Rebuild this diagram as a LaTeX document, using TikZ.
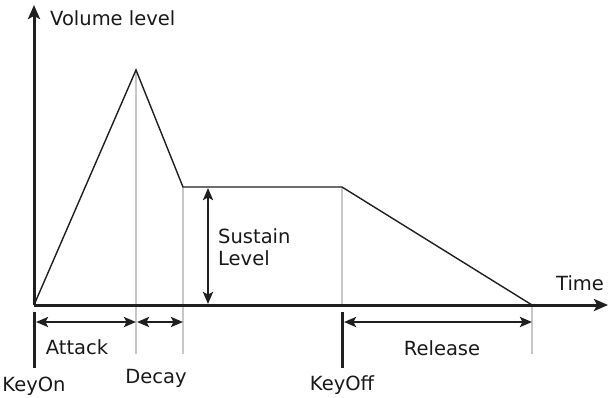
\documentclass[tikz,border=0pt]{standalone}
\usepackage{fontspec}
\setmainfont{DejaVu Sans}
\usetikzlibrary{arrows.meta}
\begin{document}
\begin{tikzpicture}[x=1pt,y=-1pt,
  axis/.style={line width=3pt,draw=black!88,-{Stealth[length=14pt,width=12pt,inset=3pt]}},
  env/.style={line width=1.4pt,draw=black!88},
  guide/.style={line width=1.6pt,draw=black!22},
  dim/.style={line width=2.4pt,draw=black!88,{Stealth[length=12pt,width=10pt,inset=2.5pt]}-{Stealth[length=12pt,width=10pt,inset=2.5pt]}},
  keymark/.style={line width=3pt,draw=black!88},
  lbl/.style={font=\fontsize{19.5}{22}\selectfont,text=black!90,inner sep=0pt}]
\useasboundingbox (0,0) rectangle (609,397);
% key points
\coordinate (O) at (34,305);
\coordinate (P) at (136,70);
\coordinate (D) at (183,187);
\coordinate (S) at (342,187);
\coordinate (R) at (532,305);
\coordinate (Ytip) at (34,5);
\coordinate (Xtip) at (608,305);
% guides
\coordinate (Pb) at (136,354);
\coordinate (Db) at (183,354);
\coordinate (Sb) at (342,305);
\coordinate (Rb) at (532,354);
\draw[guide] (P) -- (Pb);
\draw[guide] (D) -- (Db);
\draw[guide] (S) -- (Sb);
\draw[guide] (R) -- (Rb);
% envelope
\draw[env] (O) -- (P) -- (D) -- (S) -- (R);
% axes
\draw[axis] (O) -- (Ytip);
\draw[axis] (O) -- (Xtip);
% key marks
\coordinate (K1a) at (34,312);
\coordinate (K1b) at (34,368);
\coordinate (K2a) at (342,312);
\coordinate (K2b) at (342,368);
\draw[keymark] (K1a) -- (K1b);
\draw[keymark] (K2a) -- (K2b);
% dimension arrows
\coordinate (A1) at (36,322);
\coordinate (A2) at (136,322);
\coordinate (A3) at (137,322);
\coordinate (A4) at (183,322);
\coordinate (A5) at (344,322);
\coordinate (A6) at (532,322);
\draw[dim] (A1) -- (A2);
\draw[dim] (A3) -- (A4);
\draw[dim] (A5) -- (A6);
\coordinate (L1) at (208,188);
\coordinate (L2) at (208,304);
\draw[dim] (L1) -- (L2);
% labels
\node[lbl,anchor=west] (vol) at (50,18) {Volume level};
\node[lbl,anchor=west] (time) at (556,283) {Time};
\node[lbl,align=left,anchor=north west] (sus) at (218,228) {Sustain\\Level};
\node[lbl] (att) at (77,347) {Attack};
\node[lbl] (dec) at (156,378) {Decay};
\node[lbl] (kon) at (34,386) {KeyOn};
\node[lbl] (koff) at (342,385) {KeyOff};
\node[lbl] (rel) at (442,348) {Release};
\end{tikzpicture}
\end{document}
